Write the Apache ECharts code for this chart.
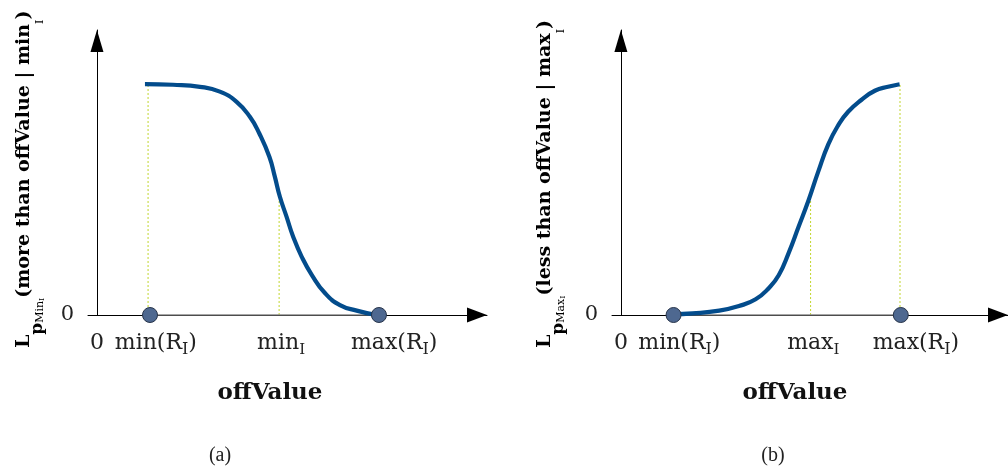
<!DOCTYPE html>
<html>
<head>
<meta charset="utf-8">
<script src="https://cdn.jsdelivr.net/npm/echarts@6/dist/echarts.min.js"></script>
<style>
  html, body { margin: 0; background: #fff; }
  #chart { width: 1008px; height: 470px; }
</style>
</head>
<body>
<div id="chart"></div>
<script>
// panel (a): L_p(more than offValue | min_I), falls from 1 to 0
const curveA_x = [12.3, 19.5, 26.4, 31.5, 35.8, 39.2, 41.6, 44.2, 45.6, 46.9, 48.6, 50.3, 52.5, 55.1, 58.5, 62.3, 66.6, 70.8];
const curveA_y = [1.0, 0.997, 0.988, 0.967, 0.923, 0.858, 0.787, 0.685, 0.599, 0.512, 0.426, 0.339, 0.252, 0.173, 0.094, 0.043, 0.019, 0.003];
const rangeA = [13.6, 72.3];          // min(R_I), max(R_I)
const guideA_x = [13.1, 46.7];        // dotted drop lines
const guideA_top = [1, 0.5];
const ticksA = [0, 15.1, 47.2, 76.2];
const tickLabelsA = ['{a|0}', '{a|min(R}{s|I}{a|)}', '{a|min}{t|I}', '{a|max(R}{s|I}{a|)}'];

// panel (b): L_p(less than offValue | max_I), rises from 0 to 1
const curveB_x = [13.4, 18.5, 25.4, 30.5, 34.8, 38.2, 40.8, 43.3, 45.9, 48.5, 51.0, 53.6, 56.2, 58.7, 62.1, 65.6, 69.0, 72.0];
const curveB_y = [0.003, 0.007, 0.019, 0.039, 0.068, 0.116, 0.173, 0.267, 0.382, 0.498, 0.622, 0.740, 0.823, 0.880, 0.931, 0.971, 0.988, 0.999];
const rangeB = [13.6, 72.3];
const guideB_x = [49.0, 72.1];
const guideB_top = [0.5, 1];
const ticksB = [0, 15.1, 49.7, 76.2];
const tickLabelsB = ['{a|0}', '{a|min(R}{s|I}{a|)}', '{a|max}{t|I}', '{a|max(R}{s|I}{a|)}'];

const SERIF = 'DejaVu Serif';
const BLUE = '#034c8c';
const GUIDE = '#c2d62e';

const chart = echarts.init(document.getElementById('chart'));

const labelRich = {
  a: { fontFamily: SERIF, fontSize: 22, color: '#222', lineHeight: 30 },
  s: { fontFamily: SERIF, fontSize: 16, color: '#222', lineHeight: 4, verticalAlign: 'bottom' },
  t: { fontFamily: SERIF, fontSize: 15, color: '#222', lineHeight: 18, verticalAlign: 'bottom' }
};

function makeAxes(idx, ticks, tickLabels) {
  const xAxis = {
    type: 'value', gridIndex: idx, min: -2.3, max: 100,
    splitLine: { show: false }, axisTick: { show: false },
    axisLine: {
      onZero: true,
      lineStyle: { color: '#000', width: 1 },
      symbol: ['none', 'triangle'], symbolSize: [15, 20], symbolOffset: [0, -10]
    },
    axisLabel: {
      customValues: ticks, margin: 13,
      formatter: (v) => tickLabels[ticks.indexOf(v)] || '',
      rich: labelRich
    }
  };
  const yAxis = {
    type: 'value', gridIndex: idx, min: 0, max: 1.234,
    splitLine: { show: false }, axisTick: { show: false },
    axisLine: {
      onZero: true,
      lineStyle: { color: '#000', width: 1 },
      symbol: ['none', 'triangle'], symbolSize: [13, 22], symbolOffset: [0, -11]
    },
    axisLabel: {
      customValues: [0], margin: 14,
      fontFamily: SERIF, fontSize: 21, color: '#222'
    }
  };
  return { xAxis, yAxis };
}

function makeSeries(idx, cx, cy, range, gx, gtop) {
  const guides = gx.map((x, i) => ({
    type: 'line', xAxisIndex: idx, yAxisIndex: idx, symbol: 'none', silent: true,
    data: [[x, 0], [x, gtop[i]]],
    lineStyle: { color: GUIDE, width: 1, type: [2, 2] }, z: 1
  }));
  return guides.concat([
    {
      type: 'line', xAxisIndex: idx, yAxisIndex: idx, symbol: 'none', silent: true,
      data: [[range[0], 0], [range[1], 0]],
      lineStyle: { color: '#8a8a8a', width: 1.5 }, z: 2
    },
    {
      type: 'line', xAxisIndex: idx, yAxisIndex: idx, symbol: 'none',
      smooth: 0.5,
      data: cx.map((x, i) => [x, cy[i]]),
      lineStyle: { color: BLUE, width: 4.2 }, z: 3
    },
    {
      type: 'scatter', xAxisIndex: idx, yAxisIndex: idx, symbolSize: 15, clip: false,
      data: range.map((x) => [x, 0]),
      itemStyle: { color: '#4e6890', borderColor: '#27344a', borderWidth: 1, opacity: 1 }, z: 4
    }
  ]);
}

const axA = makeAxes(0, ticksA, tickLabelsA);
const axB = makeAxes(1, ticksB, tickLabelsB);

const yNameRich = {
  b: { fontFamily: SERIF, fontWeight: 'bold', fontSize: 19, color: '#111', lineHeight: 44 },
  p: { fontFamily: SERIF, fontWeight: 'bold', fontSize: 17, color: '#111', lineHeight: 30, verticalAlign: 'bottom' },
  m: { fontFamily: SERIF, fontSize: 11, color: '#111', lineHeight: 16, verticalAlign: 'bottom' },
  i: { fontFamily: SERIF, fontSize: 8, color: '#111', lineHeight: 2, verticalAlign: 'bottom' },
  j: { fontFamily: SERIF, fontSize: 11, color: '#111', lineHeight: 20, verticalAlign: 'bottom' }
};

function textEl(x, y, text, style) {
  return { type: 'text', x: x, y: y, style: Object.assign({ text: text }, style) };
}

const option = {
  backgroundColor: '#fff',
  animation: false,
  grid: [
    { left: 88, top: 30, width: 399, height: 285 },
    { left: 612, top: 30, width: 399, height: 285 }
  ],
  xAxis: [axA.xAxis, axB.xAxis],
  yAxis: [axA.yAxis, axB.yAxis],
  series: makeSeries(0, curveA_x, curveA_y, rangeA, guideA_x, guideA_top)
    .concat(makeSeries(1, curveB_x, curveB_y, rangeB, guideB_x, guideB_top)),
  graphic: [
    {
      type: 'text', x: 46, y: 348, rotation: Math.PI / 2,
      style: {
        text: '{b|L}{p|p}{m|Min}{i|I}{b|(more than offValue | min}{j|I}{b|)}',
        rich: yNameRich, align: 'left', verticalAlign: 'bottom'
      }
    },
    {
      type: 'text', x: 567, y: 348, rotation: Math.PI / 2,
      style: {
        text: '{b|L}{p|p}{m|Max}{i|I}{b|(less than offValue | max}{j|I}{b|)}',
        rich: yNameRich, align: 'left', verticalAlign: 'bottom'
      }
    },
    textEl(270, 393, 'offValue', { font: 'bold 23px "DejaVu Serif"', fill: '#111', align: 'center', verticalAlign: 'middle' }),
    textEl(795, 393, 'offValue', { font: 'bold 23px "DejaVu Serif"', fill: '#111', align: 'center', verticalAlign: 'middle' }),
    textEl(220, 456, '(a)', { font: '20px "Liberation Serif"', fill: '#222', align: 'center', verticalAlign: 'middle' }),
    textEl(773, 456, '(b)', { font: '20px "Liberation Serif"', fill: '#222', align: 'center', verticalAlign: 'middle' })
  ]
};

chart.setOption(option);
</script>
</body>
</html>
